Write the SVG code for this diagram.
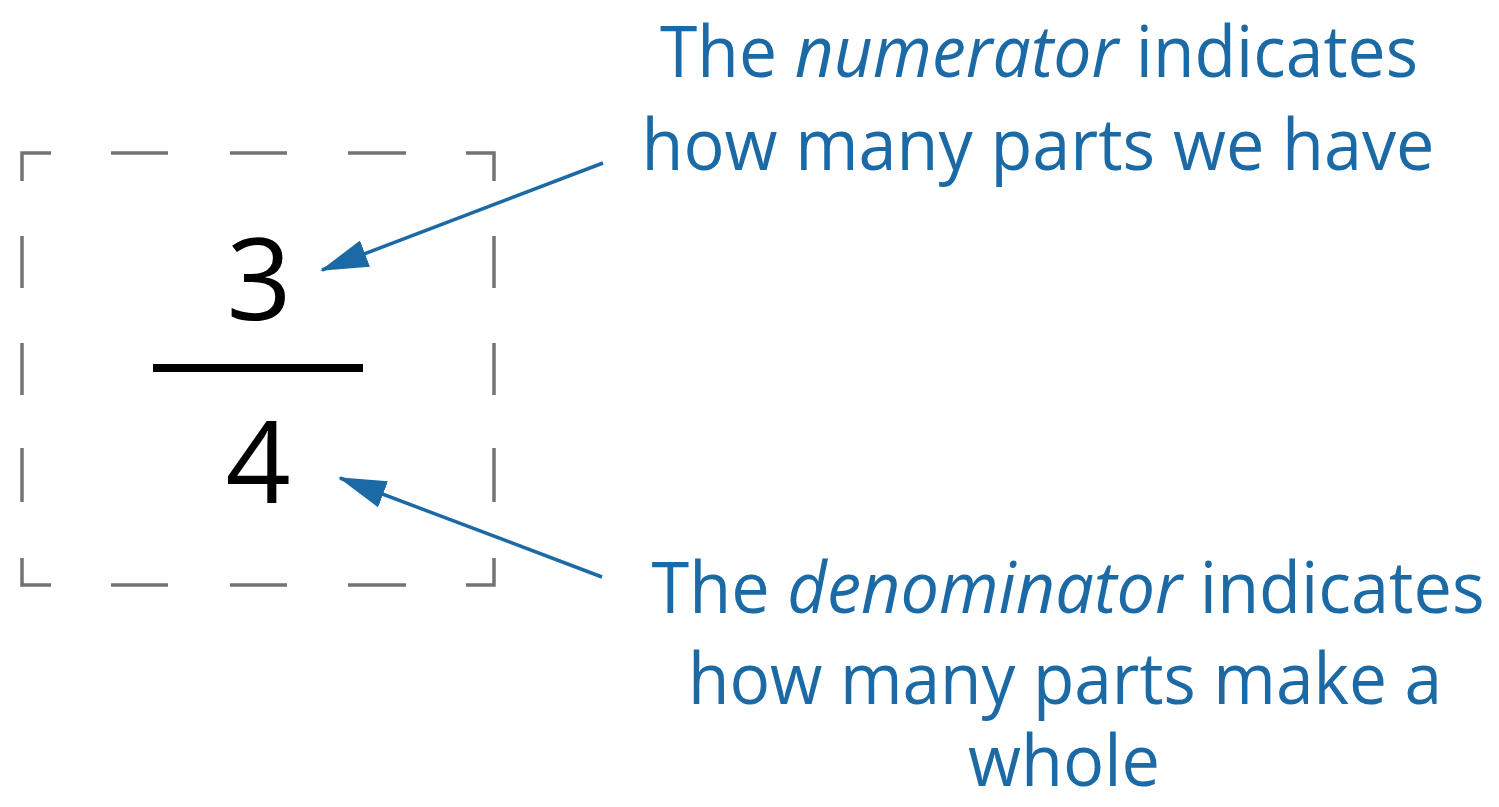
<svg xmlns="http://www.w3.org/2000/svg" width="1499" height="807" viewBox="0 0 1499 807">
<style>
.box{stroke:#737373;stroke-width:3.5;fill:none;stroke-linecap:butt}
.lbl{font-family:"Open Sans","Noto Sans",sans-serif;font-size:71px;fill:#1b6aa6;text-anchor:middle}
.dig{font-family:"Open Sans","Noto Sans",sans-serif;font-size:114px;fill:#000;text-anchor:middle}
.conn{stroke:#1b6aa6;stroke-width:3.5;fill:none}
</style>
<defs>
<marker id="ah" viewBox="0 0 48 28" refX="46" refY="14" markerWidth="48" markerHeight="28" markerUnits="userSpaceOnUse" orient="auto">
<path d="M0,0 L48,14 L0,28 Z" fill="#1b6aa6"/>
</marker>
</defs>
<rect width="1499" height="807" fill="#fff"/>
<g id="fraction-box">
<path class="box" d="M22,181 V153 H51 M111,153 H168 M230,153 H287 M348,153 H406 M466,153 H494 V181 M494,236 V288 M494,343 V395 M494,448 V502 M494,558 V585 H466 M406,585 H348 M287,585 H230 M168,585 H111 M51,585 H22 V558 M22,502 V448 M22,395 V343 M22,288 V236"/>
</g>
<g id="numerator"><text class="dig" x="259" y="320">3</text></g>
<g id="fraction-bar"><line x1="153" y1="368" x2="363" y2="368" stroke="#000" stroke-width="8"/></g>
<g id="denominator"><text class="dig" x="258" y="503">4</text></g>
<g id="numerator-label">
<text class="lbl" x="1039" y="77" textLength="758" lengthAdjust="spacingAndGlyphs">The <tspan font-style="italic">numerator</tspan> indicates</text>
<text class="lbl" x="1038" y="170" textLength="793" lengthAdjust="spacingAndGlyphs">how many parts we have</text>
</g>
<g id="denominator-label">
<text class="lbl" x="1068" y="613" textLength="833" lengthAdjust="spacingAndGlyphs">The <tspan font-style="italic">denominator</tspan> indicates</text>
<text class="lbl" x="1065" y="704" textLength="754" lengthAdjust="spacingAndGlyphs">how many parts make a</text>
<text class="lbl" x="1064" y="786" textLength="192" lengthAdjust="spacingAndGlyphs">whole</text>
</g>
<g id="connectors">
<line class="conn" x1="603" y1="163" x2="322" y2="270" marker-end="url(#ah)"/>
<line class="conn" x1="602" y1="577" x2="340" y2="478" marker-end="url(#ah)"/>
</g>
</svg>
